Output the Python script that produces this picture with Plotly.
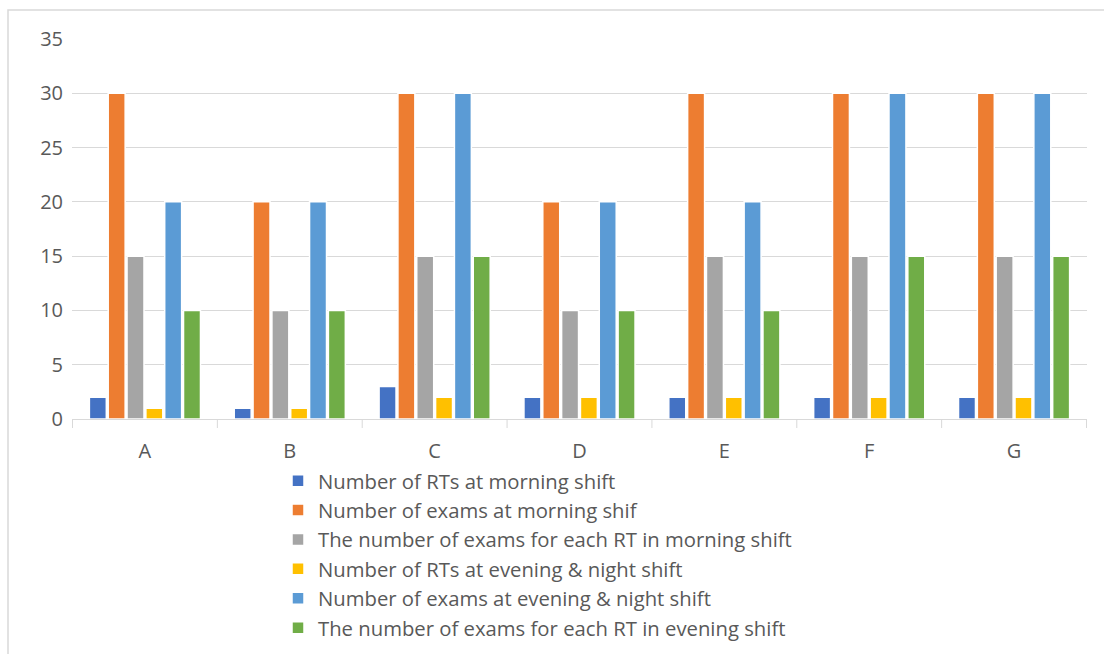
import plotly.graph_objects as go

categories = ["A", "B", "C", "D", "E", "F", "G"]
series_names = [
    "Number of RTs at morning shift",
    "Number of exams at morning shif",
    "The number of exams for each RT in morning shift",
    "Number of RTs at evening & night shift",
    "Number of exams at evening & night shift",
    "The number of exams for each RT in evening shift",
]
rts_morning = [2, 1, 3, 2, 2, 2, 2]
exams_morning = [30, 20, 30, 20, 30, 30, 30]
per_rt_morning = [15, 10, 15, 10, 15, 15, 15]
rts_evening = [1, 1, 2, 2, 2, 2, 2]
exams_evening = [20, 20, 30, 20, 20, 30, 30]
per_rt_evening = [10, 10, 15, 10, 10, 15, 15]
y_ticks = [0, 5, 10, 15, 20, 25, 30, 35]

colors = ["#4472C4", "#ED7D31", "#A5A5A5", "#FFC000", "#5B9BD5", "#70AD47"]
series_values = [rts_morning, exams_morning, per_rt_morning, rts_evening, exams_evening, per_rt_evening]

fig = go.Figure()
for i, (name, vals) in enumerate(zip(series_names, series_values)):
    fig.add_trace(go.Bar(
        x=categories, y=vals, name=name,
        marker=dict(color=colors[i], line=dict(color="white", width=1.5)),
    ))

W, H = 1104, 654
L, R, T, B = 72, 17, 39, 235
pw = W - L - R
ph = H - T - B
FS = 20

fig.update_layout(
    width=W, height=H,
    margin=dict(l=L, r=R, t=T, b=B, autoexpand=False),
    paper_bgcolor="white", plot_bgcolor="white",
    barmode="group", bargap=0.22, bargroupgap=0.1,
    font=dict(family="Open Sans", size=FS, color="#595959"),
    showlegend=True,
    legend=dict(
        x=(278 - L) / pw, y=(419 - 461) / ph, xanchor="left", yanchor="top",
        orientation="v", traceorder="normal",
        font=dict(family="Open Sans", size=20.3, color="#595959"),
        bgcolor="rgba(0,0,0,0)",
    ),
    xaxis=dict(
        showgrid=False, showline=True, linecolor="#D9D9D9", linewidth=1,
        ticks="", ticklabelstandoff=14, tickfont=dict(size=FS, color="#595959"),
    ),
    yaxis=dict(
        range=[0, 35], tickvals=y_ticks, showgrid=True, gridcolor="#D9D9D9",
        gridwidth=1, zeroline=False, showline=False, ticks="",
        ticklabelstandoff=8,
        tickfont=dict(size=FS, color="#595959"),
    ),
    shapes=[dict(
        type="rect", xref="paper", yref="paper", layer="below",
        x0=(8 - L) / pw, x1=(1110 - L) / pw,
        y0=(H - B - 660) / ph, y1=(H - B - 10) / ph,
        line=dict(color="#D9D9D9", width=1.5), fillcolor="rgba(0,0,0,0)",
    )],
)

for k in range(len(categories) + 1):
    fig.add_shape(type="line", xref="x", yref="paper",
                  x0=k - 0.5, x1=k - 0.5, y0=0, y1=-9 / ph,
                  line=dict(color="#D9D9D9", width=1))

fig.write_html("out.html")
